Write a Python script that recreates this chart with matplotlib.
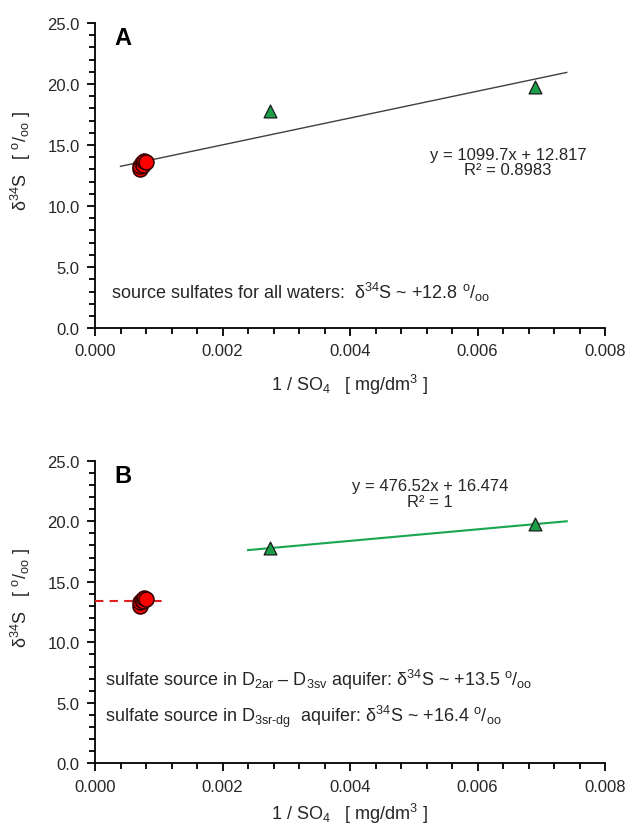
import matplotlib
matplotlib.use("Agg")
import matplotlib.pyplot as plt
import numpy as np
from matplotlib.ticker import MultipleLocator, FormatStrFormatter

plt.rcParams["font.family"] = ["Liberation Sans", "DejaVu Sans"]
plt.rcParams["mathtext.fontset"] = "custom"
plt.rcParams["mathtext.rm"] = "Liberation Sans"
plt.rcParams["mathtext.it"] = "Liberation Sans:italic"
plt.rcParams["mathtext.bf"] = "Liberation Sans:bold"

# data: 1/SO4 [mg/dm3] vs d34S [permil]
red_x = [0.00070, 0.00071, 0.00073, 0.00075, 0.00077, 0.00080]
red_y = [13.0, 13.3, 13.5, 13.4, 13.7, 13.6]
green_x = [0.00275, 0.0069]
green_y = [17.78, 19.76]

fit_a = (1099.7, 12.817)
fit_a_range = (0.0004, 0.0074)
fit_b = (476.52, 16.474)
fit_b_range = (0.0024, 0.0074)
source_b_red = 13.4
source_b_range = (0.0, 0.0011)

PERMIL = r"$^{\mathrm{o}}/_{\mathrm{oo}}$"
DELTA = r"δ$^{34}$S"
TEXT_COLOR = "#262626"


def style_axis(axis, xlabel_pad):
    axis.set_xlim(0, 0.008)
    axis.set_ylim(0, 25)
    axis.xaxis.set_major_locator(MultipleLocator(0.002))
    axis.xaxis.set_minor_locator(MultipleLocator(0.0004))
    axis.yaxis.set_major_locator(MultipleLocator(5))
    axis.yaxis.set_minor_locator(MultipleLocator(1))
    axis.xaxis.set_major_formatter(FormatStrFormatter("%.3f"))
    axis.yaxis.set_major_formatter(FormatStrFormatter("%.1f"))
    axis.spines["top"].set_visible(False)
    axis.spines["right"].set_visible(False)
    for spine in ("left", "bottom"):
        axis.spines[spine].set_linewidth(1.3)
    axis.tick_params(which="major", length=6, width=1.3, labelsize=12,
                     labelcolor=TEXT_COLOR)
    axis.tick_params(which="minor", length=4, width=1.3)
    axis.tick_params(axis="x", pad=5)
    axis.tick_params(axis="y", pad=5)
    axis.set_xlabel("1 / SO$_4$   [ mg/dm$^3$ ]", fontsize=13,
                    labelpad=xlabel_pad, color=TEXT_COLOR)
    axis.set_ylabel(DELTA + "   [ " + PERMIL + " ]", fontsize=13,
                    color=TEXT_COLOR)
    axis.yaxis.set_label_coords(-0.122, 0.55)
    axis.scatter(red_x, red_y, s=115, color="#ff0000", edgecolor="#3a0000",
                 linewidth=1.2, zorder=4)
    axis.scatter(green_x, green_y, s=85, marker="^", color="#1a9e48",
                 edgecolor="#1a1a1a", linewidth=0.9, zorder=4)


figure = plt.figure(figsize=(6.25, 8.29), dpi=100)
top = figure.add_axes([0.152, 0.603, 0.816, 0.368])
bottom = figure.add_axes([0.152, 0.078, 0.816, 0.365])

style_axis(top, 10)
xs = np.array(fit_a_range)
top.plot(xs, fit_a[0] * xs + fit_a[1], color="#404040", linewidth=1.0, zorder=3)
top.text(0.00031, 23.8, "A", fontsize=17, fontweight="bold", va="center")
top.text(0.00648, 13.6, "y = 1099.7x + 12.817\nR² = 0.8983", fontsize=12,
         ha="center", va="center", linespacing=1.05, color=TEXT_COLOR)
top.text(0.00025, 3.0,
         "source sulfates for all waters:  " + DELTA + " ~ +12.8 " + PERMIL,
         fontsize=13, va="center", color=TEXT_COLOR)

style_axis(bottom, 5)
xs = np.array(fit_b_range)
bottom.plot(xs, fit_b[0] * xs + fit_b[1], color="#1aa64f", linewidth=1.5, zorder=3)
bottom.plot(source_b_range, [source_b_red] * 2, color="#e02020", linewidth=1.5,
            linestyle=(0, (4, 3)), zorder=3)
bottom.text(0.00031, 23.8, "B", fontsize=17, fontweight="bold", va="center")
bottom.text(0.00525, 22.3, "y = 476.52x + 16.474\nR² = 1", fontsize=12,
            ha="center", va="center", linespacing=1.05, color=TEXT_COLOR)
bottom.text(0.00015, 7.0,
            r"sulfate source in D$_{\mathrm{2ar}}$ – D$_{\mathrm{3sv}}$ aquifer: "
            + DELTA + " ~ +13.5 " + PERMIL,
            fontsize=13, va="center", color=TEXT_COLOR)
bottom.text(0.00015, 3.9,
            "sulfate source in D$_{\\mathrm{3sr\u2010dg}}$  aquifer: " + DELTA
            + " ~ +16.4 " + PERMIL, fontsize=13, va="center", color=TEXT_COLOR)

figure.savefig("out.png", dpi=100)
plt.close(figure)
